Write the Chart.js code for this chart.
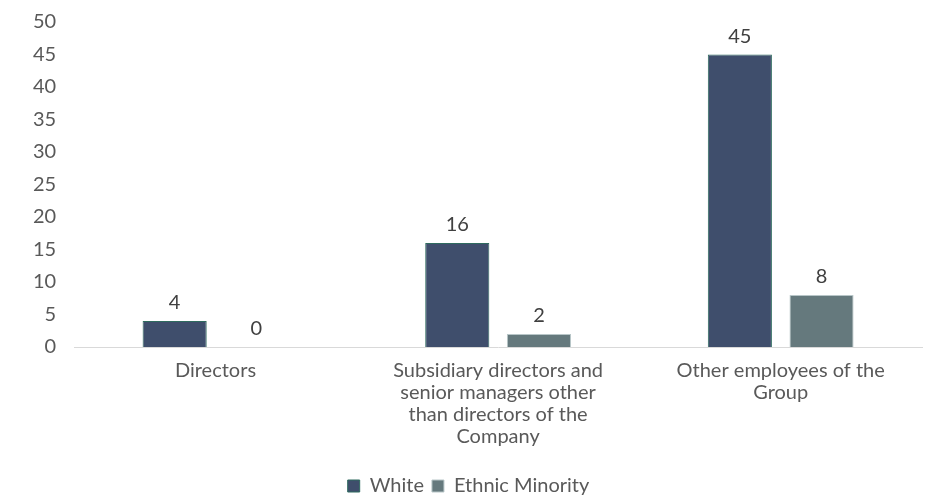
<!DOCTYPE html>
<html>
<head>
<meta charset="utf-8">
<script src="https://cdn.jsdelivr.net/npm/chart.js@4/dist/chart.umd.min.js"></script>
<style>
  html, body { margin: 0; padding: 0; background: #ffffff; }
  #wrap { width: 925px; height: 500px; }
</style>
</head>
<body>
<div id="wrap"><canvas id="c" width="925" height="500"></canvas></div>
<script>
const categories = [
  ["Directors"],
  ["Subsidiary directors and", "senior managers other", "than directors of the", "Company"],
  ["Other employees of the", "Group"]
];
const seriesNames = ["White", "Ethnic Minority"];
const whiteValues = [4, 16, 45];
const minorityValues = [0, 2, 8];
const yTicks = [0, 5, 10, 15, 20, 25, 30, 35, 40, 45, 50];

const FONT = "Lato, 'Open Sans', sans-serif";

const valueLabels = {
  id: 'valueLabels',
  afterDatasetsDraw(chart) {
    const ctx = chart.ctx;
    ctx.save();
    ctx.font = "20px " + FONT;
    ctx.fillStyle = "#404040";
    ctx.textAlign = "center";
    ctx.textBaseline = "bottom";
    chart.data.datasets.forEach((ds, i) => {
      const meta = chart.getDatasetMeta(i);
      meta.data.forEach((bar, j) => {
        ctx.fillText(String(ds.data[j]), bar.x, bar.y - 8);
      });
    });
    ctx.restore();
  }
};

new Chart(document.getElementById('c'), {
  type: 'bar',
  data: {
    labels: categories,
    datasets: [
      {
        label: seriesNames[0],
        data: whiteValues,
        backgroundColor: '#3f4e6c',
        borderColor: '#2f6b5f',
        borderWidth: 1,
        categoryPercentage: 0.578,
        barPercentage: 0.785
      },
      {
        label: seriesNames[1],
        data: minorityValues,
        backgroundColor: '#65797d',
        borderColor: '#b8c6c8',
        borderWidth: 1,
        categoryPercentage: 0.578,
        barPercentage: 0.785
      }
    ]
  },
  options: {
    responsive: false,
    animation: false,
    layout: { padding: { top: 22, right: 3, left: 15, bottom: -6 } },
    plugins: {
      legend: {
        position: 'bottom',
        labels: {
          font: { size: 20, family: FONT },
          color: '#595959',
          boxWidth: 12,
          boxHeight: 12,
          padding: 8
        }
      },
      tooltip: { enabled: false }
    },
    scales: {
      x: {
        grid: { display: false, drawTicks: false },
        border: { display: true, color: '#d9d9d9', width: 1 },
        afterFit(s) { s.height += 7; },
        ticks: {
          font: { size: 20, family: FONT, lineHeight: 1.1 },
          color: '#595959',
          maxRotation: 0,
          minRotation: 0,
          autoSkip: false,
          padding: 13
        }
      },
      y: {
        min: 0,
        max: 50,
        afterBuildTicks(axis) { axis.ticks = yTicks.map(v => ({ value: v })); },
        afterFit(s) { s.paddingTop = 0; },
        grid: { display: false, drawTicks: false },
        border: { display: false },
        ticks: {
          font: { size: 20, family: FONT },
          color: '#595959',
          padding: 18
        }
      }
    }
  },
  plugins: [valueLabels]
});
</script>
</body>
</html>
